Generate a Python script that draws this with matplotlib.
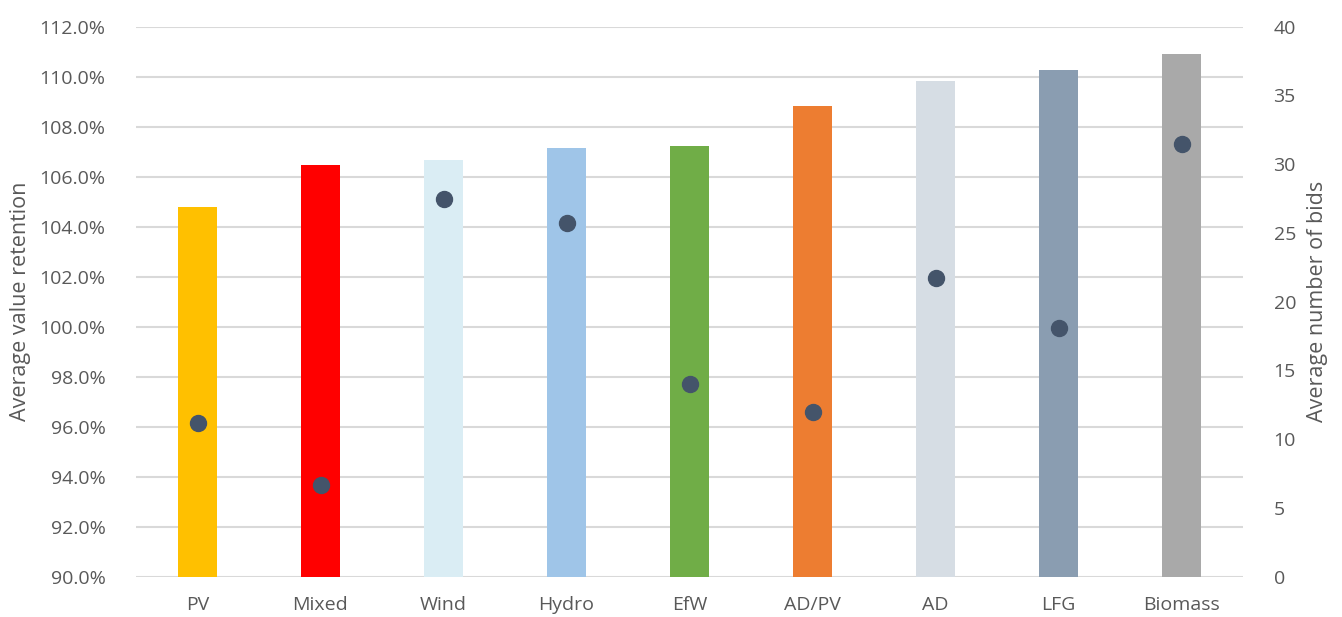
import matplotlib.pyplot as plt
from matplotlib.ticker import PercentFormatter, MultipleLocator

plt.rcParams['font.family'] = ['Open Sans', 'DejaVu Sans']

# --------- DATA ---------
categories = ['PV', 'Mixed', 'Wind', 'Hydro', 'EfW', 'AD/PV', 'AD', 'LFG', 'Biomass']
value_retention = [104.8, 106.48, 106.67, 107.15, 107.23, 108.83, 109.83, 110.27, 110.91]  # %
avg_bids = [11.2, 6.7, 27.5, 25.7, 14.0, 12.0, 21.7, 18.1, 31.5]
bar_colors = ['#FFC000', '#FF0000', '#DAEDF4', '#9FC5E8', '#70AD47',
              '#ED7D31', '#D6DDE4', '#8A9DB1', '#A9A9A9']

text_col = '#595959'
grid_col = '#D9D9D9'

# --------- PLOT ---------
fig = plt.figure(figsize=(13.42, 6.17), dpi=100)
ax = fig.add_axes([136/1342, 1 - 576.7/617, 1107/1342, 550/617])
x = range(len(categories))

ax.bar(x, [v - 90 for v in value_retention], bottom=90, width=0.317, color=bar_colors, zorder=2)
ax.set_ylim(90, 112)
ax.set_xlim(-0.5, len(categories) - 0.5)
ax.yaxis.set_major_locator(MultipleLocator(2))
ax.yaxis.set_major_formatter(PercentFormatter(decimals=1))
ax.grid(axis='y', color=grid_col, lw=1.5, zorder=0)
ax.set_axisbelow(True)
ax.set_xticks(list(x))
ax.set_xticklabels(categories)
ax.set_ylabel('Average value retention', fontsize=15.5, color=text_col, labelpad=6)

ax2 = ax.twinx()
ax2.plot(x, avg_bids, 'o', ms=11.5, color='#44546A', zorder=3)
ax2.set_ylim(0, 40)
ax2.yaxis.set_major_locator(MultipleLocator(5))
ax2.set_ylabel('Average number of bids', fontsize=15.5, color=text_col, labelpad=8)

for a in (ax, ax2):
    for s in a.spines.values():
        s.set_visible(False)
    a.tick_params(length=0, labelsize=14, colors=text_col)
ax.tick_params(axis='x', pad=14)
ax.tick_params(axis='y', pad=22)
ax2.tick_params(axis='y', pad=22)

fig.savefig('out.png', dpi=100)
